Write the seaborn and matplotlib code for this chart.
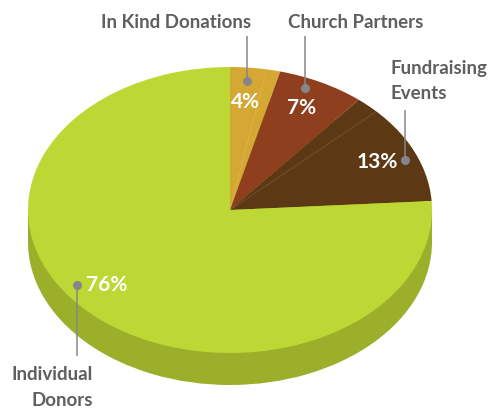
import matplotlib
matplotlib.use('Agg')
import matplotlib.pyplot as plt
import numpy as np
import seaborn as sns

# values and colours
categories = ['In Kind Donations', 'Church Partners', 'Fundraising\nEvents', 'Individual\nDonors']
shares = [4, 7, 13, 76]
pct_labels = ['4%', '7%', '13%', '76%']
slice_colors = ['#D4A833', '#8F3F1E', '#5C3814', '#BDD835']
side_color = '#9CAF2B'
text_color = '#5E5F61'
dot_color = '#85868A'
hairline_at = [2.9, 12.9]  # faint seams inside the slices, percent round the pie
WIDTH, HEIGHT = 492, 411
CX, CY, RX, RY, DEPTH = 230, 210, 202, 143, 32

sns.set_theme(style='white')
plt.rcParams['font.family'] = ['Lato', 'DejaVu Sans']


def px(x, y):
    # picture pixels to the unit pie coordinates
    return (x - CX) / RX, (CY - y) / RY


fig = plt.figure(figsize=(WIDTH / 100, HEIGHT / 100), dpi=100)
ax = fig.add_axes([0, 0, 1, 1])

# side of the disc first, then the top
d = DEPTH / RY
ax.pie([1], colors=[side_color], center=(0, -d), radius=1, wedgeprops={'linewidth': 0})
ax.fill_between([-1, 1], 0, -d, color=side_color, linewidth=0)
ax.pie(shares, colors=slice_colors, startangle=90, counterclock=False, radius=1,
       wedgeprops={'linewidth': 0})

for pct in hairline_at:
    a = pct / 100 * 2 * np.pi
    ax.plot([0, np.sin(a)], [0, np.cos(a)], color='white', lw=0.4, ls=(0, (2, 1)), alpha=0.3, zorder=4)

ax.set_aspect('auto')
ax.set_xlim(px(0, 0)[0], px(WIDTH, 0)[0])
ax.set_ylim(px(0, HEIGHT)[1], px(0, 0)[1])
ax.axis('off')

# leader lines: dot position, far end of the line
leaders = [((246.5, 81), (246.5, 36)), ((305, 88), (305, 36)),
           ((405, 160), (405, 110)), ((77, 285), (77, 356))]
for dot, end in leaders:
    x0, y0 = px(*dot)
    x1, y1 = px(*end)
    ax.plot([x0, x1], [y0, y1], color=dot_color, lw=1.2, solid_capstyle='butt', zorder=5, alpha=0.9)
    ax.plot([x0], [y0], 'o', color=dot_color, ms=6.5, mew=0, zorder=6)

label_pos = [(176, 22, 'center'), (356, 22, 'center'), (390, 81, 'left'), (93, 387.5, 'right')]
for name, (x, y, ha) in zip(categories, label_pos):
    xx, yy = px(x, y)
    ax.text(xx, yy, name, color=text_color, fontsize=13.5, fontweight='bold', ha=ha, va='center',
            linespacing=1.6, zorder=7)

pct_pos = [(245, 102), (302, 108), (377, 162), (107, 285)]
for name, (x, y) in zip(pct_labels, pct_pos):
    xx, yy = px(x, y)
    ax.text(xx, yy, name, color='white', fontsize=15, fontweight='bold', ha='center', va='center', zorder=7)

sns.despine(ax=ax, left=True, bottom=True)
fig.savefig('out.png', dpi=100, facecolor='white')
